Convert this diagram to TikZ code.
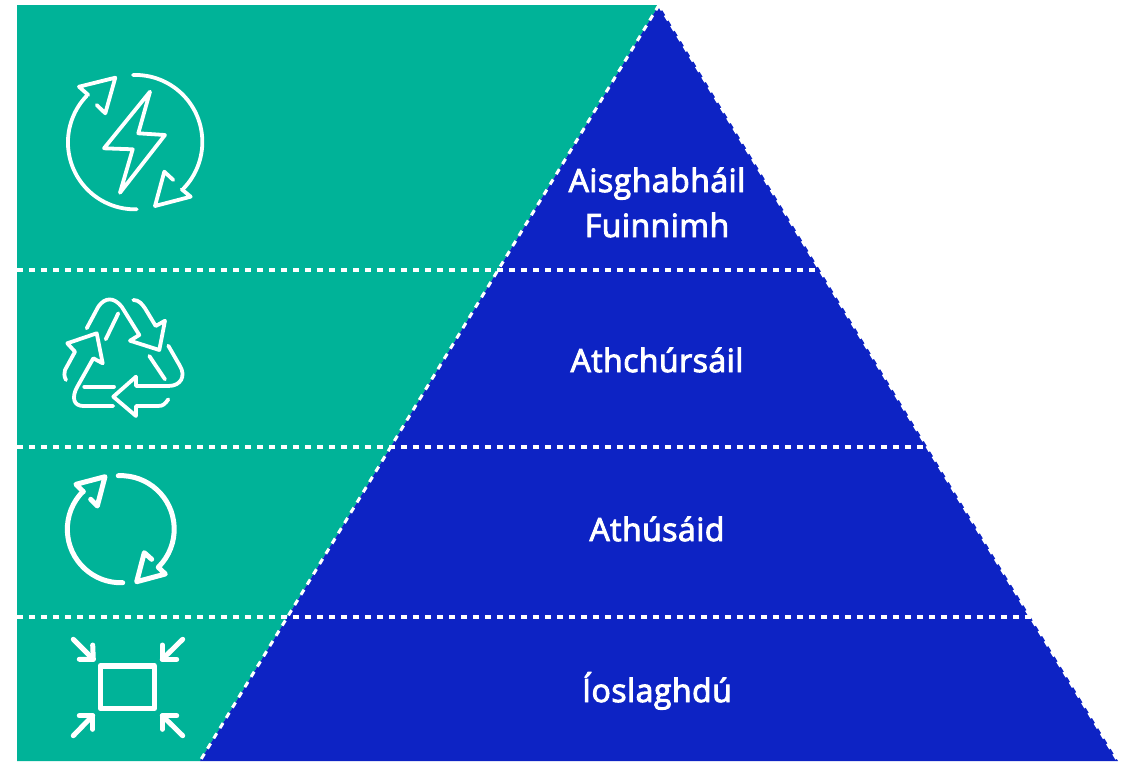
\documentclass[tikz,border=0pt]{standalone}
\usepackage{fontspec}
\newfontfamily\labelfont[FakeBold=3,LetterSpace=1.5]{Open Sans}
\definecolor{tealbg}{RGB}{0,179,152}
\definecolor{pyrblue}{RGB}{13,35,196}
\tikzset{
  divider/.style={draw=white,line width=3.2pt,dash pattern=on 6pt off 6pt},
  edge/.style={draw=white,line width=3pt,dash pattern=on 6pt off 6pt},
  icon/.style={draw=white,line cap=round,line join=round,line width=3.8pt},
  thickicon/.style={icon,line width=5pt},
  tier/.style={text=white,font=\labelfont\fontsize{32}{45}\selectfont,anchor=base,align=center}
}
\begin{document}
\begin{tikzpicture}[x=1pt,y=-1pt]
\useasboundingbox (0,0) rectangle (1125,761);
\coordinate (apex) at (659,5);
\coordinate (tl) at (17,5);
\coordinate (bl) at (17,761);
\coordinate (pl) at (200,761);
\coordinate (pr) at (1118,761);
\fill[tealbg] (tl) -- (apex) -- (pl) -- (bl) -- cycle;
\fill[pyrblue] (apex) -- (pr) -- (pl) -- cycle;
\coordinate (a1) at (17,270);
\coordinate (a2) at (821,270);
\coordinate (b1) at (17,447);
\coordinate (b2) at (928,447);
\coordinate (c1) at (17,617);
\coordinate (c2) at (1032,617);
\draw[divider] (a1) -- (a2);
\draw[divider] (b1) -- (b2);
\draw[divider] (c1) -- (c2);
\draw[edge] (apex) -- (pl);
\draw[edge] (apex) -- (pr);
\node (fuinneamh) at (657,237) [tier] {Aisghabháil\\Fuinnimh};
\node (athchursail) at (657,372) [tier] {Athchúrsáil};
\node (athusaid) at (657,541) [tier] {Athúsáid};
\node (ioslaghdu) at (657,702) [tier] {Íoslaghdú};
% energy
\draw[icon] (133,75) arc[start angle=-92,end angle=44,radius=67];
\draw[icon] (173.3,180) -- (164.3,171.7) -- (155,206) -- (190.7,196.7) -- (181.7,189.3);
\draw[icon] (136.7,209.3) arc[start angle=88.5,end angle=224,radius=67];
\draw[icon] (96.7,105) -- (105.3,113.3) -- (115.3,77.7) -- (79,86.7) -- (88.3,95);
\draw[icon] (150,91.7) -- (138.3,133.3) -- (165,135) -- (120,192.7) -- (132.7,149.3) -- (104,148.3) -- cycle;
% recycle
\draw[icon] (133.3,300) .. controls (139,300) and (142,304) .. (145,308.3) -- (155.7,326) -- (165,320.7) -- (159.3,350) -- (130,340.7) -- (139.3,335) -- (121.7,306.7) .. controls (114,297) and (105,297) .. (98.3,306.7) -- (86.7,328.3);
\draw[icon] (118.3,313.3) -- (105.7,339.3);
\draw[icon] (66,380) .. controls (64,376) and (64,373) .. (65,370) -- (75,351.7) -- (67.3,343.3) -- (96.7,333.3) -- (102.7,363.3) -- (93.3,358.3) -- (77.3,386.7) .. controls (71,398) and (74,406) .. (83.3,406) -- (113.3,406);
\draw[icon] (84.3,386.7) -- (114,386.7);
\draw[icon] (168.3,399.3) .. controls (165,404) and (163,406) .. (158,406) -- (136,406) -- (136,416) -- (113.3,396.7) -- (136,376.7) -- (136,386) -- (168.3,386) .. controls (181,386) and (186,376) .. (180,366) -- (168.3,345.7);
\draw[icon] (149.3,356) -- (165,379.3);
% reuse
\draw[thickicon] (118.3,475.7) arc[start angle=-92.6,end angle=44.8,radius=53.5];
\draw[thickicon] (151.7,559.3) -- (144.3,552.7) -- (136.7,581.7) -- (165.3,574) -- (158.3,567.3);
\draw[thickicon] (122.7,582.7) arc[start angle=88,end angle=225,radius=53.5];
\draw[thickicon] (90.7,499.3) -- (97.3,506) -- (105,476.7) -- (76,484.3) -- (83.3,491.7);
% reduce
\draw[icon,line width=5.6pt] (100.3,665.7) rectangle (154.3,708.3);
\draw[thickicon] (73.3,639.3) -- (93.3,659.3);
\draw[thickicon] (92.7,645) -- (93.3,659.3) -- (79.3,659.3);
\draw[thickicon] (182.7,639.3) -- (162.3,659.3);
\draw[thickicon] (162.3,645) -- (162.3,659.3) -- (176.7,659.3);
\draw[thickicon] (73.3,735.7) -- (92.7,715.7);
\draw[thickicon] (79.3,715.7) -- (92.7,715.7) -- (92.7,729.3);
\draw[thickicon] (182.7,735.7) -- (162.3,715.7);
\draw[thickicon] (176.7,715.7) -- (162.3,715.7) -- (162.3,729.3);
\end{tikzpicture}
\end{document}
